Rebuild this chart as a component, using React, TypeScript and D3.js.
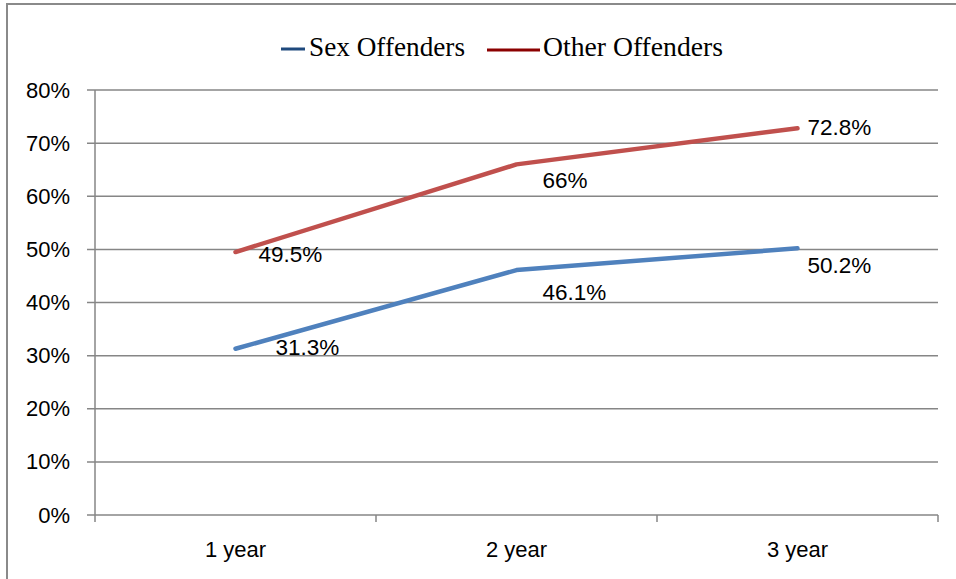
import React from "react";
import * as d3 from "d3";

const categories = ["1 year", "2 year", "3 year"];
const sexOffenders = [31.3, 46.1, 50.2];
const otherOffenders = [49.5, 66, 72.8];
const sexLabels = ["31.3%", "46.1%", "50.2%"];
const otherLabels = ["49.5%", "66%", "72.8%"];
const yTicks = [0, 10, 20, 30, 40, 50, 60, 70, 80];
const legendNames = ["Sex Offenders", "Other Offenders"];

const W = 956;
const H = 579;
const left = 95;
const right = 938;
const top = 90;
const bottom = 515;

// label placement offsets (layout, relative to each point)
const sexLabelOffsets = [[40, -1], [26, 22], [10, 17]];
const otherLabelOffsets = [[23, 2], [26, 16], [10, -1]];

export default function App() {
  const x = d3.scaleBand().domain(categories).range([left, right]).padding(0);
  const y = d3.scaleLinear().domain([0, 80]).range([bottom, top]);
  const cx = (c: string) => (x(c) as number) + x.bandwidth() / 2;
  const line = d3
    .line<number>()
    .x((_, i) => cx(categories[i]))
    .y((d) => y(d));

  const grid = "#868686";
  const labelFont = "'Liberation Sans', Arial, sans-serif";
  const boundaries = [...categories.map((c) => x(c) as number), right];

  const series = [
    { vals: otherOffenders, labels: otherLabels, color: "#C0504D", offs: otherLabelOffsets },
    { vals: sexOffenders, labels: sexLabels, color: "#4F81BD", offs: sexLabelOffsets },
  ];

  return (
    <svg
      width={W}
      height={H}
      style={{ position: "fixed", top: 0, left: 0, background: "#fff" }}
    >
      <rect x={0} y={0} width={W} height={H} fill="#fff" />
      <rect x={7} y={4} width={W + 10} height={H + 10} fill="none" stroke="#8a8a8a" strokeWidth={2} />

      {/* gridlines */}
      {yTicks.map((t) => (
        <g key={t}>
          <line x1={left - 8} x2={right} y1={y(t)} y2={y(t)} stroke={grid} strokeWidth={1.5} />
          <text
            x={70}
            y={y(t)}
            textAnchor="end"
            dominantBaseline="central"
            fontFamily={labelFont}
            fontSize={22}
            fill="#000"
          >
            {t + "%"}
          </text>
        </g>
      ))}
      {/* y axis line */}
      <line x1={left} x2={left} y1={top} y2={bottom} stroke={grid} strokeWidth={1.5} />
      {/* x ticks */}
      {boundaries.map((b, i) => (
        <line key={i} x1={b} x2={b} y1={bottom} y2={bottom + 7} stroke={grid} strokeWidth={1.5} />
      ))}
      {categories.map((c) => (
        <text
          key={c}
          x={cx(c)}
          y={549}
          textAnchor="middle"
          dominantBaseline="central"
          fontFamily={labelFont}
          fontSize={22}
          fill="#000"
        >
          {c}
        </text>
      ))}

      {/* series lines */}
      {series.map((s, si) => (
        <path
          key={si}
          d={line(s.vals) || ""}
          fill="none"
          stroke={s.color}
          strokeWidth={4.5}
          strokeLinecap="round"
          strokeLinejoin="round"
        />
      ))}
      {/* data labels */}
      {series.map((s, si) =>
        s.vals.map((v, i) => (
          <text
            key={si + "-" + i}
            x={cx(categories[i]) + s.offs[i][0]}
            y={y(v) + s.offs[i][1]}
            dominantBaseline="central"
            fontFamily={labelFont}
            fontSize={22.5}
            fill="#000"
          >
            {s.labels[i]}
          </text>
        ))
      )}

      {/* legend */}
      <line x1={281} x2={305} y1={49} y2={49} stroke="#1F497D" strokeWidth={3} />
      <text
        x={309}
        y={56}
        fontFamily="'Liberation Serif', 'Times New Roman', serif"
        fontSize={27}
        textLength={156}
        lengthAdjust="spacingAndGlyphs"
        fill="#000"
      >
        {legendNames[0]}
      </text>
      <line x1={487} x2={540} y1={50} y2={50} stroke="#8B0000" strokeWidth={3} />
      <text
        x={543}
        y={56}
        fontFamily="'Liberation Serif', 'Times New Roman', serif"
        fontSize={27}
        textLength={180}
        lengthAdjust="spacingAndGlyphs"
        fill="#000"
      >
        {legendNames[1]}
      </text>
    </svg>
  );
}
